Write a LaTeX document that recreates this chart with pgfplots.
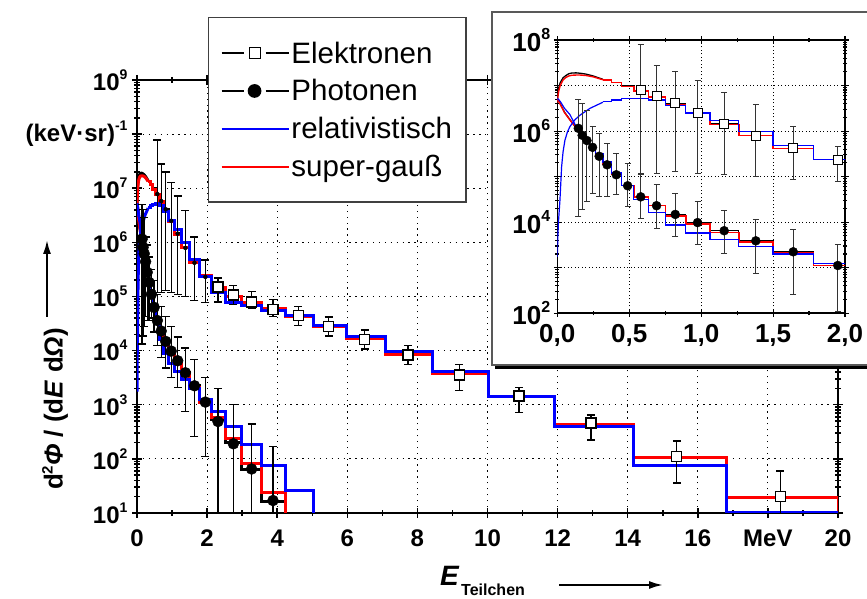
\documentclass[border=0pt]{standalone}
\usepackage{fontspec}
\setmainfont{Liberation Sans}
\usepackage{pgfplots}
\usepackage{pgfplotstable}
\pgfplotsset{compat=1.18}
\usetikzlibrary{arrows.meta}

\newcommand{\tl}[1]{\fontsize{24}{24}\selectfont\bfseries 10\raisebox{11pt}{\fontsize{14}{14}\selectfont\bfseries #1}}
\newcommand{\itl}[1]{\fontsize{26}{26}\selectfont\bfseries 10\raisebox{12pt}{\fontsize{16}{16}\selectfont\bfseries #1}}

% ---------- measured points with error bars ----------
\pgfplotstableread{
x y lo hi
0.58 7.8e6 1.2e5 7.8e7
0.69 5.8e6 1.2e5 2.8e7
0.82 4.1e6 1.3e5 2.0e7
0.975 2.5e6 1.2e5 1.26e7
1.16 1.45e6 1.1e5 7.2e6
1.38 7.9e5 1.0e5 3.9e6
1.64 4.2e5 8.5e4 1.26e6
1.95 2.3e5 7.8e4 4.7e5
2.31 1.5e5 7.9e4 2.2e5
2.75 1.07e5 7.2e4 1.62e5
3.27 7.9e4 6.0e4 1.23e5
3.88 5.8e4 4.3e4 8.9e4
4.60 4.5e4 2.9e4 6.5e4
5.47 2.75e4 1.86e4 4.2e4
6.50 1.62e4 1.07e4 2.4e4
7.73 8.3e3 5.6e3 1.23e4
9.20 3.55e3 1.86e3 5.6e3
10.9 1.45e3 7.1e2 2.1e3
12.95 4.6e2 2.24e2 6.5e2
15.4 1.10e2 3.6e1 2.14e2
18.35 2.0e1 3 6.0e1
}\elec

\pgfplotstableread{
x y lo hi
0.146 1.15e6 1.32e4 5.0e6
0.173 8.1e5 1.86e4 4.1e6
0.206 6.2e5 2.8e4 2.9e6
0.245 4.4e5 4.3e4 1.26e6
0.291 2.8e5 3.6e4 8.9e5
0.346 1.82e5 3.6e4 5.4e5
0.41 1.1e5 4.0e4 3.2e5
0.489 6.3e4 2.2e4 1.95e5
0.58 3.6e4 1.23e4 1.1e5
0.69 2.3e4 7.4e3 6.6e4
0.82 1.48e4 4.8e3 4.3e4
0.975 9.8e3 3.2e3 2.8e4
1.16 6.5e3 2.1e3 1.78e4
1.38 3.9e3 7.6e2 1.12e4
1.64 2.24e3 2.6e2 6.8e3
1.95 1.12e3 1.1e2 3.2e3
2.31 4.9e2 1 2.0e3
2.75 1.9e2 1 1.0e3
3.27 65 1 4.4e2
3.88 17 1 1.7e2
}\phot

% ---------- electron spectra ----------
\pgfplotstableread{
x y
0 5.0e6
0.005 7.1e6
0.01 8.9e6
0.02 1.15e7
0.04 1.48e7
0.06 1.66e7
0.08 1.82e7
0.10 1.88e7
0.13 1.90e7
0.16 1.86e7
0.20 1.78e7
0.25 1.62e7
0.317 1.37e7
}\eBlkS
\pgfplotstableread{
x y
0.317 1.35e7
0.377 1.17e7
0.448 9.8e6
0.532 7.8e6
0.632 5.75e6
0.752 4.0e6
0.893 2.45e6
1.062 1.45e6
1.262 8.1e5
1.500 4.2e5
1.782 2.34e5
2.118 1.48e5
2.518 1.0e5
2.992 7.9e4
3.556 6.0e4
4.226 4.3e4
5.023 2.75e4
5.970 1.66e4
7.095 8.5e3
8.432 3.8e3
10.02 1.45e3
11.91 4.4e2
14.16 1.07e2
16.83 19.5
20 1
}\eBlkH
\pgfplotstableread{
x y
0 4.2e6
0.005 6.0e6
0.01 7.6e6
0.02 1.0e7
0.04 1.32e7
0.06 1.51e7
0.08 1.62e7
0.10 1.68e7
0.13 1.70e7
0.16 1.70e7
0.20 1.66e7
0.25 1.55e7
0.317 1.34e7
}\eRedS
\pgfplotstableread{
x y
0.317 1.32e7
0.377 1.15e7
0.448 9.5e6
0.532 7.6e6
0.632 5.6e6
0.752 3.75e6
0.893 2.45e6
1.062 1.41e6
1.262 8.1e5
1.500 4.2e5
1.782 2.4e5
2.118 1.48e5
2.518 1.0e5
2.992 7.9e4
3.556 6.0e4
4.226 4.2e4
5.023 2.75e4
5.970 1.66e4
7.095 8.5e3
8.432 3.8e3
10.02 1.45e3
11.91 4.4e2
14.16 1.07e2
16.83 19.5
20 1
}\eRedH
\pgfplotstableread{
x y
0 1.74e3
0.004 5.0e3
0.008 1.0e4
0.0185 3.1e4
0.03 1.66e5
0.04 3.5e5
0.053 6.3e5
0.07 9.5e5
0.088 1.26e6
0.12 1.74e6
0.158 2.24e6
0.227 3.16e6
0.317 4.3e6
}\eBluS
\pgfplotstableread{
x y
0.317 4.4e6
0.377 4.8e6
0.448 5.1e6
0.532 5.25e6
0.632 4.8e6
0.752 3.7e6
0.893 2.5e6
1.062 1.7e6
1.262 9.8e5
1.500 4.8e5
1.782 2.34e5
2.118 1.17e5
2.518 7.9e4
2.992 6.8e4
3.556 5.6e4
4.226 4.4e4
5.023 2.95e4
5.970 1.86e4
7.095 9.8e3
8.432 4.2e3
10.02 1.45e3
11.91 4.0e2
14.16 74
16.83 10
20 10
}\eBluH

% ---------- photon spectra ----------
\pgfplotstableread{
x y
0 5.2e6
0.02 4.0e6
0.05 2.6e6
0.088 1.78e6
0.1337 1.15e6
}\pBlkS
\pgfplotstableread{
x y
0.1337 1.15e6
0.1589 8.1e5
0.1888 6.2e5
0.2244 4.4e5
0.2667 2.8e5
0.3170 1.82e5
0.3767 1.1e5
0.4477 6.3e4
0.5321 3.6e4
0.6324 2.3e4
0.7516 1.48e4
0.8933 9.8e3
1.062 6.5e3
1.262 3.9e3
1.500 2.24e3
1.782 1.12e3
2.118 5.4e2
2.518 2.0e2
2.992 63
3.556 16.6
4.226 1
}\pBlkH
\pgfplotstableread{
x y
0 5.1e6
0.02 3.9e6
0.05 2.55e6
0.088 1.75e6
0.1337 1.15e6
}\pRedS
\pgfplotstableread{
x y
0.1337 1.15e6
0.1589 8.1e5
0.1888 6.2e5
0.2244 4.4e5
0.2667 2.8e5
0.3170 1.82e5
0.3767 1.1e5
0.4477 6.3e4
0.5321 3.6e4
0.6324 2.3e4
0.7516 1.38e4
0.8933 9.1e3
1.062 6.0e3
1.262 3.7e3
1.500 2.1e3
1.782 1.12e3
2.118 5.9e2
2.518 2.4e2
2.992 81
3.556 24
4.226 1
}\pRedH
\pgfplotstableread{
x y
0 5.25e6
0.02 4.5e6
0.05 3.16e6
0.088 2.3e6
0.1337 1.2e6
}\pBluS
\pgfplotstableread{
x y
0.1337 1.12e6
0.1589 8.5e5
0.1888 6.3e5
0.2244 4.6e5
0.2667 3.2e5
0.3170 2.1e5
0.3767 1.2e5
0.4477 6.3e4
0.5321 3.2e4
0.6324 1.62e4
0.7516 8.7e3
0.8933 5.8e3
1.062 4.1e3
1.262 2.9e3
1.500 2.0e3
1.782 1.26e3
2.118 7.4e2
2.518 4.0e2
2.992 1.82e2
3.556 74
4.226 26
5.023 1
}\pBluH

\begin{document}
\begin{tikzpicture}
\path[use as bounding box] (0pt,0pt) rectangle (867pt,599pt);

% ================= main axis =================
\begin{axis}[
  at={(137pt,86pt)}, anchor=south west,
  width=701pt, height=433pt, scale only axis,
  xmin=0, xmax=20, ymin=10, ymax=1e9, ymode=log,
  xtick={0,2,4,6,8,10,12,14,16,18,20},
  xticklabels={0,2,4,6,8,10,12,14,16,MeV,20},
  minor xtick={1,3,5,7,9,11,13,15,17,19},
  ytick={1e1,1e2,1e3,1e4,1e5,1e6,1e7,1e8,1e9},
  yticklabels={\tl{1},\tl{2},\tl{3},\tl{4},\tl{5},\tl{6},\tl{7},{\fontsize{24}{24}\selectfont\bfseries (keV·sr)\raisebox{11pt}{\fontsize{14}{14}\selectfont\bfseries -1}},\tl{9}},
  xticklabel style={font=\fontsize{24}{24}\selectfont\bfseries, yshift=-8pt},
  yticklabel style={xshift=-1pt},
  tick align=center,
  major tick length=10pt, minor tick length=6pt,
  tick style={black, line width=1.5pt},
  axis line style={black, line width=2pt},
  grid=major,
  major grid style={black, line width=1.1pt, dash pattern=on 1.3pt off 4.6pt},
  legend style={at={(0.1013,1.1455)}, anchor=north west, draw=black!75, line width=1.3pt,
    fill=white, font=\fontsize{29.5}{34}\selectfont, inner xsep=12pt, inner ysep=22pt,
    row sep=11pt},
  legend cell align=left,
]
\addlegendimage{legend image code/.code={
  \draw[black,line width=1.6pt] (0pt,0pt) -- (22pt,0pt) (44pt,0pt) -- (67pt,0pt);
  \draw[black,line width=1.2pt,fill=white] (28pt,-5.5pt) rectangle (39pt,5.5pt);}}
\addlegendentry{Elektronen}
\addlegendimage{legend image code/.code={
  \draw[black,line width=1.6pt] (0pt,0pt) -- (22pt,0pt) (44pt,0pt) -- (67pt,0pt);
  \fill[black] (33pt,0pt) circle (6.2pt);}}
\addlegendentry{Photonen}
\addlegendimage{legend image code/.code={
  \draw[blue,line width=1.8pt] (0pt,0pt) -- (67pt,0pt);}}
\addlegendentry{relativistisch}
\addlegendimage{legend image code/.code={
  \draw[red,line width=1.8pt] (0pt,0pt) -- (67pt,0pt);}}
\addlegendentry{super-gauß}

\addplot[forget plot, black, line width=3pt] table {\eBlkS};
\addplot[forget plot, black, line width=3pt, const plot] table {\eBlkH};
\addplot[forget plot, black, line width=3pt] table {\pBlkS};
\addplot[forget plot, black, line width=3pt, const plot] table {\pBlkH};
\addplot[forget plot, red, line width=3pt] table {\eRedS};
\addplot[forget plot, red, line width=3pt, const plot] table {\eRedH};
\addplot[forget plot, red, line width=3pt] table {\pRedS};
\addplot[forget plot, red, line width=3pt, const plot] table {\pRedH};
\addplot[forget plot, blue, line width=3pt] table {\eBluS};
\addplot[forget plot, blue, line width=3pt, const plot] table {\eBluH};
\addplot[forget plot, blue, line width=3pt] table {\pBluS};
\addplot[forget plot, blue, line width=3pt, const plot] table {\pBluH};

% photon points with error bars
\addplot[forget plot, only marks, mark=*, mark size=5.5pt, mark options={black, fill=black},
  error bars/.cd, y dir=both, y explicit, error bar style={black, line width=1.3pt},
  error mark options={rotate=90, black, line width=1.3pt, mark size=4pt}]
  table[x=x, y=y, y error plus expr=\thisrow{hi}-\thisrow{y}, y error minus expr=\thisrow{y}-\thisrow{lo}] {\phot};
% electron error bars (all points)
\addplot[forget plot, only marks, mark=none,
  error bars/.cd, y dir=both, y explicit, error bar style={black, line width=1.3pt},
  error mark options={rotate=90, black, line width=1.3pt, mark size=4pt}]
  table[x=x, y=y, y error plus expr=\thisrow{hi}-\thisrow{y}, y error minus expr=\thisrow{y}-\thisrow{lo}] {\elec};
% electron squares (visible above 2 MeV)
\addplot[forget plot, only marks, mark=square*, mark size=5pt, mark options={draw=black, fill=white, line width=1.2pt},
  restrict x to domain=2.2:20]
  table[x=x, y=y] {\elec};
\end{axis}

% ================= inset frame =================
\fill[black] (495pt,230pt) rectangle (880pt,583pt);
\draw[fill=white, draw=black!65, line width=1.3pt] (492pt,234pt) rectangle (876pt,587pt);

% ================= inset axis =================
\begin{axis}[
  at={(557.3pt,285.7pt)}, anchor=south west,
  width=287.7pt, height=273.3pt, scale only axis,
  xmin=0, xmax=2, ymin=1e2, ymax=1e8, ymode=log,
  xtick={0,0.5,1,1.5,2},
  xticklabels={{0,0},{0,5},{1,0},{1,5},{2,0}},
  minor xtick={0.25,0.75,1.25,1.75},
  ytick={1e2,1e3,1e4,1e5,1e6,1e7,1e8},
  yticklabels={\itl{2},{},\itl{4},{},\itl{6},{},\itl{8}},
  xticklabel style={font=\fontsize{26}{26}\selectfont\bfseries, yshift=-4pt},
  tick align=center,
  major tick length=7pt, minor tick length=4pt,
  tick style={black, line width=1.1pt},
  axis line style={black, line width=1.6pt},
  grid=major,
  major grid style={black, line width=0.9pt, dash pattern=on 1pt off 2.5pt},
]
\addplot[black, line width=1.3pt] table {\eBlkS};
\addplot[black, line width=1.3pt, const plot] table {\eBlkH};
\addplot[black, line width=1.3pt] table {\pBlkS};
\addplot[black, line width=1.3pt, const plot] table {\pBlkH};
\addplot[red, line width=1.4pt] table {\eRedS};
\addplot[red, line width=1.4pt, const plot] table {\eRedH};
\addplot[red, line width=1.4pt] table {\pRedS};
\addplot[red, line width=1.4pt, const plot] table {\pRedH};
\addplot[blue, line width=1.2pt] table {\eBluS};
\addplot[blue, line width=1.2pt, const plot] table {\eBluH};
\addplot[blue, line width=1.2pt] table {\pBluS};
\addplot[blue, line width=1.2pt, const plot] table {\pBluH};
\addplot[only marks, mark=*, mark size=4.5pt, mark options={black, fill=black},
  error bars/.cd, y dir=both, y explicit, error bar style={black!80, line width=1pt},
  error mark options={rotate=90, black!80, line width=1pt, mark size=3pt}]
  table[x=x, y=y, y error plus expr=\thisrow{hi}-\thisrow{y}, y error minus expr=\thisrow{y}-\thisrow{lo}] {\phot};
\addplot[only marks, mark=square*, mark size=4.5pt, mark options={draw=black, fill=white, line width=1pt},
  error bars/.cd, y dir=both, y explicit, error bar style={black!80, line width=1pt},
  error mark options={rotate=90, black!80, line width=1pt, mark size=3pt}]
  table[x=x, y=y, y error plus expr=\thisrow{hi}-\thisrow{y}, y error minus expr=\thisrow{y}-\thisrow{lo}] {\elec};
\end{axis}

% ================= axis titles =================
\node[rotate=90, anchor=base, inner sep=0pt] at (62.5pt,190pt)
  {\fontsize{26}{26}\selectfont\bfseries d\raisebox{10pt}{\fontsize{15}{15}\selectfont 2}\textit{Φ} / (d\textit{E} d\textit{Ω})};
\draw[-{Latex[length=14pt,width=8pt]}, line width=2pt] (47pt,282pt) -- (47pt,359pt);
\node[anchor=base west, inner sep=0pt] at (440pt,13pt) {\fontsize{28}{28}\selectfont\bfseries\itshape E};
\node[anchor=base west, inner sep=0pt] at (461pt,3.5pt) {\fontsize{16}{16}\selectfont\bfseries Teilchen};
\draw[-{Latex[length=14pt,width=8pt]}, line width=2pt] (559pt,14pt) -- (663pt,14pt);
\end{tikzpicture}
\end{document}
